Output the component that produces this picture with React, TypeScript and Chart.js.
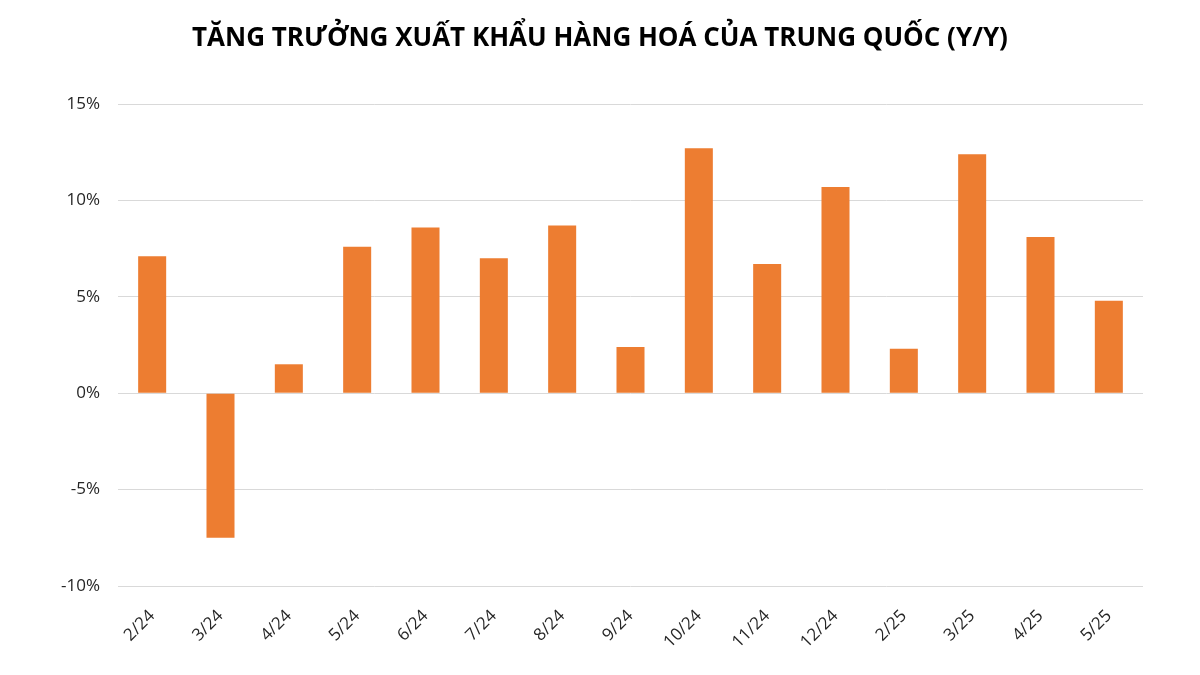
import React, { useEffect, useRef } from "react";
import { Chart, registerables } from "chart.js";

Chart.register(...registerables);

const TITLE = "TĂNG TRƯỞNG XUẤT KHẨU HÀNG HOÁ CỦA TRUNG QUỐC (Y/Y)";
const categories = ["2/24", "3/24", "4/24", "5/24", "6/24", "7/24", "8/24", "9/24", "10/24", "11/24", "12/24", "2/25", "3/25", "4/25", "5/25"];
const exportGrowth = [7.1, -7.5, 1.5, 7.6, 8.6, 7.0, 8.7, 2.4, 12.7, 6.7, 10.7, 2.3, 12.4, 8.1, 4.8];
const yMin = -10;
const yMax = 15;
const yStep = 5;

const titlePlugin = {
  id: "pageTitle",
  afterDraw(chart: any) {
    const ctx = chart.ctx;
    ctx.save();
    ctx.font = "bold 26px 'Open Sans'";
    ctx.fillStyle = "#000";
    ctx.textAlign = "center";
    ctx.textBaseline = "middle";
    ctx.fillText(TITLE, 600, 39);
    ctx.restore();
  },
};

export default function App() {
  const ref = useRef<HTMLCanvasElement>(null);
  useEffect(() => {
    if (!ref.current) return;
    const chart = new Chart(ref.current, {
      type: "bar",
      data: {
        labels: categories,
        datasets: [
          {
            data: exportGrowth,
            backgroundColor: "#ED7D31",
            barPercentage: 0.41,
            categoryPercentage: 1,
          },
        ],
      },
      plugins: [titlePlugin],
      options: {
        responsive: false,
        animation: false,
        devicePixelRatio: 1,
        layout: { padding: { left: 8, right: 57, top: 104, bottom: 0 } },
        plugins: {
          legend: { display: false },
          tooltip: { enabled: false },
          title: { display: false },
        },
        scales: {
          x: {
            grid: { display: false, drawTicks: false },
            border: { display: false },
            ticks: {
              color: "#262626",
              font: { family: "'Open Sans'", size: 17 },
              maxRotation: 45,
              minRotation: 45,
              padding: 20,
            },
            afterFit: (s: any) => {
              s.height = 89;
            },
          },
          y: {
            min: yMin,
            max: yMax,
            grid: { color: "#d9d9d9", drawTicks: false },
            border: { display: false },
            ticks: {
              stepSize: yStep,
              color: "#262626",
              font: { family: "'Open Sans'", size: 17 },
              padding: 18,
              callback: (v: any) => `${v}%`,
            },
            afterFit: (s: any) => {
              s.width = 110;
            },
          },
        },
      },
    });
    return () => chart.destroy();
  }, []);
  return (
    <div style={{ position: "absolute", left: 0, top: 0, width: 1200, height: 675, background: "#fff" }}>
      <canvas ref={ref} width={1200} height={675} />
    </div>
  );
}
